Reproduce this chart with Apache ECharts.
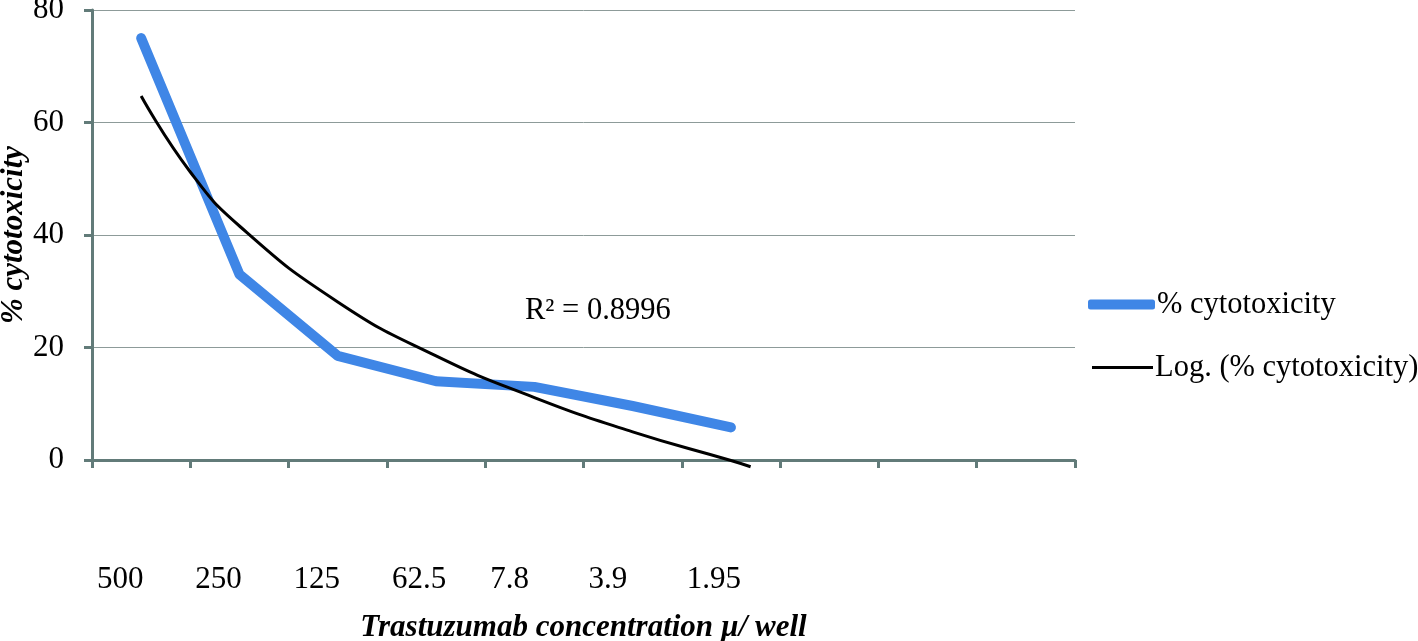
<!DOCTYPE html>
<html>
<head>
<meta charset="utf-8">
<script src="https://cdn.jsdelivr.net/npm/echarts@6/dist/echarts.min.js"></script>
<style>
    html, body { margin: 0; padding: 0; background: #fff; }
    #chart { width: 1418px; height: 641px; }
</style>
</head>
<body>
<div id="chart"></div>
<script>
    // concentrations (x axis labels), 10 slots, only 7 used
    var categories = ["500", "250", "125", "62.5", "7.8", "3.9", "1.95", "", "", "", ""];
    // % cytotoxicity
    var cytotoxicity = [75, 33, 18.5, 14, 13, 9.6, 5.8];
    // log trendline as drawn (position in slots, value)
    var trendX = [1, 1.5, 2, 3, 4, 5, 6, 7, 7.2];
    var trendY = [64.7, 51.2, 41.6, 28.1, 18.5, 11.1, 5.0, -0.1, -1.2];
    var yTicks = [0, 20, 40, 60, 80];

    var axisColor = "#627b79";
    var font = "'Liberation Serif', 'Times New Roman', serif";

    var cytoData = [];
    for (var i in cytotoxicity) {
        cytoData.push([Number(i) + 0.5, cytotoxicity[i]]);
    }
    var trendData = [];
    for (var j in trendX) {
        trendData.push([trendX[j] - 0.5, trendY[j]]);
    }

    var chart = echarts.init(document.getElementById("chart"));
    chart.setOption({
        animation: false,
        textStyle: { fontFamily: font, color: "#000" },
        grid: { left: 92, right: 343, top: 10, bottom: 181, containLabel: false, outerBoundsMode: "none" },
        xAxis: [{
            type: "category",
            data: categories,
            boundaryGap: false,
            axisLine: { lineStyle: { color: axisColor, width: 3 } },
            axisTick: { length: 8, lineStyle: { color: axisColor, width: 3 } },
            axisLabel: {
                interval: 0,
                align: "left",
                verticalAlign: "top",
                margin: 104,
                padding: [0, 0, 0, 5],
                fontSize: 31,
                color: "#000",
                fontFamily: font
            },
            splitLine: { show: false },
            name: "Trastuzumab concentration µ/ well",
            nameLocation: "middle",
            nameGap: 152,
            nameTextStyle: {
                fontSize: 31,
                fontWeight: "bold",
                fontStyle: "italic",
                color: "#000",
                fontFamily: font
            }
        }, {
            type: "value",
            min: 0,
            max: 10,
            show: false
        }],
        yAxis: {
            type: "value",
            min: yTicks[0],
            max: yTicks[yTicks.length - 1],
            interval: 20,
            axisLine: { show: true, lineStyle: { color: axisColor, width: 3 } },
            axisTick: { show: true, length: 8, lineStyle: { color: axisColor, width: 3 } },
            axisLabel: { fontSize: 31, color: "#000", margin: 28, fontFamily: font },
            splitLine: { lineStyle: { color: "#8d9b99", width: 1 } },
            name: "% cytotoxicity",
            nameLocation: "middle",
            nameGap: 63,
            nameMoveOverlap: false,
            nameTextStyle: {
                fontSize: 31,
                fontWeight: "bold",
                fontStyle: "italic",
                color: "#000",
                fontFamily: font
            }
        },
        legend: [{
            data: [{ name: "% cytotoxicity", icon: "roundRect" }],
            left: 1083,
            top: 284,
            itemWidth: 67,
            itemHeight: 10,
            itemGap: 4,
            textStyle: { fontSize: 30.5, fontFamily: font, color: "#000", padding: [0, 0, 0, -3] }
        }, {
            data: [{ name: "Log. (% cytotoxicity)", icon: "rect" }],
            left: 1087,
            top: 347,
            itemWidth: 61,
            itemHeight: 3,
            itemGap: 4,
            textStyle: { fontSize: 30.5, fontFamily: font, color: "#000", padding: [0, 0, 0, -3] }
        }],
        graphic: [{
            type: "text",
            left: 525,
            top: 295,
            style: { text: "R² = 0.8996", fontSize: 30.5, fontFamily: font, fill: "#000" }
        }],
        series: [{
            name: "% cytotoxicity",
            type: "line",
            xAxisIndex: 1,
            data: cytoData,
            showSymbol: false,
            symbol: "none",
            color: "#3f86e6",
            lineStyle: { width: 10, color: "#3f86e6", cap: "round", join: "round" },
            z: 2
        }, {
            name: "Log. (% cytotoxicity)",
            type: "line",
            xAxisIndex: 1,
            data: trendData,
            smooth: true,
            clip: false,
            showSymbol: false,
            symbol: "none",
            color: "#000",
            lineStyle: { width: 3, color: "#000" },
            z: 3
        }]
    });
</script>
</body>
</html>
